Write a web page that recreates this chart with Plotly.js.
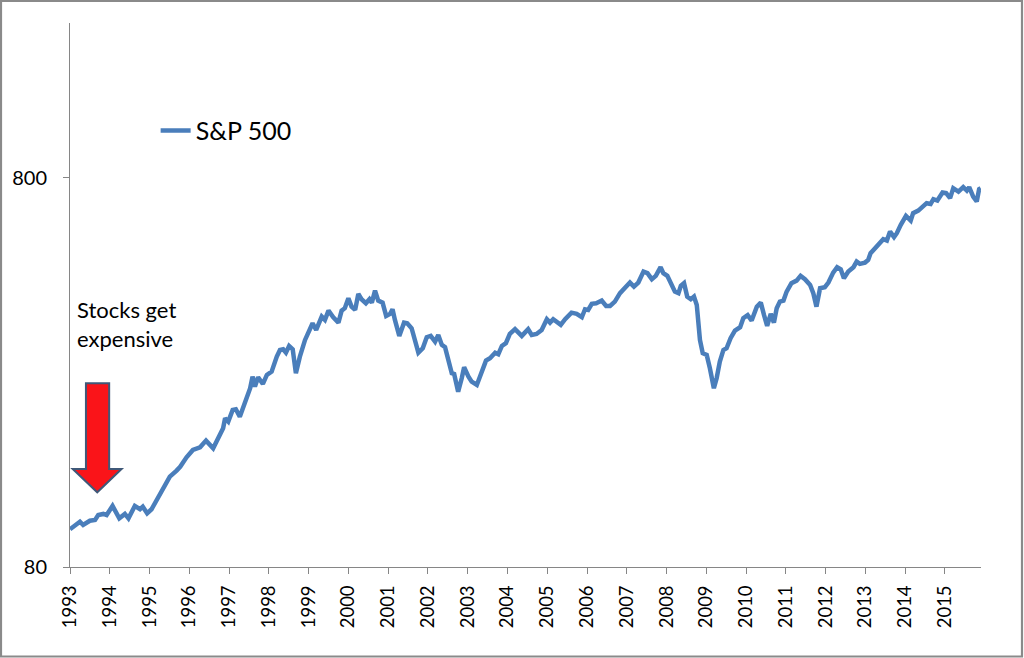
<!DOCTYPE html>
<html>
<head>
<meta charset="utf-8">
<script src="https://cdn.plot.ly/plotly-3.0.1.min.js"></script>
<style>
html,body{margin:0;padding:0;background:#fff;}
#chart{width:1024px;height:658px;}
</style>
</head>
<body>
<div id="chart"></div>
<script>
// ---- data ----
const seriesName = 'S&P 500';
const years = [
1993.00,1993.25,1993.33,1993.50,1993.63,1993.71,1993.84,1993.92,1994.07,1994.24,
1994.38,1994.47,1994.63,1994.76,1994.83,1994.94,1995.05,1995.26,1995.51,1995.68,
1995.77,1995.93,1996.09,1996.27,1996.42,1996.60,1996.73,1996.85,1996.90,1996.98,
1997.09,1997.17,1997.27,1997.44,1997.53,1997.59,1997.65,1997.73,1997.85,1997.95,
1998.07,1998.20,1998.28,1998.36,1998.43,1998.51,1998.60,1998.68,1998.78,1998.91,
1999.03,1999.10,1999.19,1999.33,1999.41,1999.50,1999.62,1999.75,1999.83,1999.91,
2000.00,2000.08,2000.17,2000.25,2000.33,2000.44,2000.53,2000.59,2000.67,2000.75,
2000.86,2000.95,2001.05,2001.11,2001.17,2001.28,2001.40,2001.48,2001.59,2001.67,
2001.76,2001.87,2001.97,2002.07,2002.18,2002.26,2002.35,2002.43,2002.51,2002.60,
2002.66,2002.76,2002.85,2002.91,2003.02,2003.10,2003.23,2003.35,2003.46,2003.56,
2003.69,2003.77,2003.86,2003.96,2004.06,2004.19,2004.36,2004.52,2004.61,2004.73,
2004.86,2004.99,2005.07,2005.15,2005.24,2005.34,2005.45,2005.53,2005.61,2005.74,
2005.87,2005.95,2006.03,2006.12,2006.23,2006.37,2006.48,2006.58,2006.70,2006.83,
2006.96,2007.08,2007.18,2007.29,2007.42,2007.52,2007.63,2007.73,2007.85,2007.92,
2008.02,2008.13,2008.21,2008.30,2008.36,2008.44,2008.52,2008.61,2008.69,2008.76,
2008.84,2008.91,2009.01,2009.09,2009.19,2009.26,2009.34,2009.43,2009.51,2009.61,
2009.72,2009.85,2009.93,2010.04,2010.14,2010.27,2010.37,2010.45,2010.53,2010.62,
2010.70,2010.77,2010.85,2010.94,2011.02,2011.14,2011.27,2011.37,2011.48,2011.61,
2011.69,2011.77,2011.86,2011.98,2012.07,2012.19,2012.29,2012.38,2012.46,2012.57,
2012.70,2012.78,2012.86,2012.99,2013.07,2013.13,2013.24,2013.35,2013.45,2013.54,
2013.62,2013.72,2013.79,2013.89,2014.02,2014.14,2014.20,2014.33,2014.44,2014.54,
2014.64,2014.71,2014.81,2014.94,2015.03,2015.13,2015.21,2015.34,2015.46,2015.55,
2015.61,2015.71,2015.80,2015.86,2015.90
];
const values = [
100.0,104.6,102.6,105.2,105.7,108.8,109.5,108.8,114.8,106.7,
109.5,106.7,114.8,112.6,114.3,109.9,112.6,122.5,136.5,141.5,
144.8,153.1,159.9,162.5,169.0,161.5,173.0,181.8,192.9,189.1,
202.6,203.4,194.7,219.2,230.4,246.8,232.6,245.9,236.3,249.3,
254.2,277.8,289.0,290.2,284.4,295.9,290.2,251.8,277.8,306.6,
328.6,338.5,325.3,352.0,345.2,364.7,350.7,339.7,364.7,369.9,
392.5,373.4,366.2,402.6,390.2,381.0,390.2,382.4,410.5,387.0,
382.4,353.5,357.7,367.7,345.2,314.0,339.7,338.5,328.6,303.6,
284.4,291.9,311.6,314.0,303.6,315.8,297.7,293.7,272.4,251.8,
250.7,225.8,244.4,260.9,246.8,239.6,234.9,251.8,271.3,275.2,
284.4,281.8,295.9,300.7,317.7,326.7,314.0,326.7,315.8,317.7,
325.3,346.6,339.7,346.6,341.7,335.1,346.6,352.0,360.4,357.7,
350.7,367.7,366.2,379.5,381.0,387.0,375.0,375.0,384.7,404.3,
417.9,430.5,420.4,430.5,459.4,455.1,439.2,447.9,471.5,455.1,
447.9,420.4,408.1,404.3,422.1,428.9,396.2,390.2,396.2,377.2,
306.6,283.4,280.6,259.3,230.4,244.4,269.7,289.0,291.9,309.7,
324.0,330.6,348.7,355.0,343.8,373.4,382.4,355.5,333.1,357.7,
339.7,369.9,384.7,387.0,408.1,428.9,435.6,447.9,439.2,424.6,
404.3,373.4,416.4,418.9,430.5,456.7,471.5,466.0,441.8,459.4,
471.5,487.4,480.8,484.6,492.3,512.3,527.7,545.4,556.5,551.9,
582.1,563.2,576.7,605.7,638.8,621.3,649.1,659.1,675.0,688.7,
685.8,705.2,699.3,733.3,730.7,709.3,752.6,737.6,757.1,742.0,
757.1,716.1,695.3,748.2,752.6
];
const tickYears = [1993,1994,1995,1996,1997,1998,1999,2000,2001,2002,2003,2004,
                   2005,2006,2007,2008,2009,2010,2011,2012,2013,2014,2015];
const tickLabels = tickYears.map(String);
const yTickVals = [80, 800];
const yTickLabels = ['80', '800'];
const yMin = 80, yMax = 2000;
const xMin = 1993, xMax = 2015.907;
const noteText = 'Stocks get<br>expensive';

// ---- chart ----
const FONT = 'Lato, "Open Sans", sans-serif';
const axisColor = '#868686';

const trace = {
  x: years,
  y: values,
  type: 'scatter',
  mode: 'lines',
  name: seriesName,
  line: {color: '#4A7EBB', width: 4.5},
  hoverinfo: 'x+y'
};

const layout = {
  width: 1024,
  height: 658,
  margin: {l: 70, r: 43, t: 23, b: 91, pad: 0},
  paper_bgcolor: '#ffffff',
  plot_bgcolor: '#ffffff',
  font: {family: FONT, color: '#000000', size: 18},
  showlegend: true,
  legend: {
    x: 0.094, y: 0.802, xanchor: 'left', yanchor: 'middle',
    bgcolor: 'rgba(0,0,0,0)', borderwidth: 0,
    font: {family: FONT, size: 25, color: '#000'}
  },
  xaxis: {
    type: 'linear',
    range: [xMin, xMax],
    tickmode: 'array',
    tickvals: tickYears,
    ticktext: tickLabels,
    tickangle: -90,
    ticks: 'outside',
    ticklen: 6,
    tickwidth: 1,
    tickcolor: axisColor,
    showline: true,
    linecolor: axisColor,
    linewidth: 1,
    showgrid: false,
    zeroline: false,
    tickfont: {family: FONT, size: 18.5, color: '#000'},
    ticklabelstandoff: 4
  },
  yaxis: {
    type: 'log',
    range: [Math.log10(yMin), Math.log10(yMax)],
    tickmode: 'array',
    tickvals: yTickVals,
    ticktext: yTickLabels,
    ticks: 'outside',
    ticklen: 6,
    tickwidth: 1,
    tickcolor: axisColor,
    showline: true,
    linecolor: axisColor,
    linewidth: 1,
    showgrid: false,
    zeroline: false,
    tickfont: {family: FONT, size: 20, color: '#000'},
    ticklabelstandoff: 12
  },
  annotations: [{
    xref: 'paper', yref: 'paper',
    x: 0.006, y: 0.446,
    xanchor: 'left', yanchor: 'middle',
    align: 'left',
    showarrow: false,
    text: noteText,
    font: {family: FONT, size: 22, color: '#000'}
  }],
  shapes: [
    // red down arrow (decoration)
    {
      type: 'path', xref: 'paper', yref: 'paper',
      path: 'M 0.0175,0.3377 L 0.0430,0.3377 L 0.0430,0.1801 L 0.0566,0.1801 L 0.0299,0.1373 L 0.0030,0.1801 L 0.0175,0.1801 Z',
      fillcolor: '#FA1419',
      line: {color: '#3F5878', width: 2}
    },
    // outer chart border
    {
      type: 'rect', xref: 'paper', yref: 'paper',
      x0: (1 - 70) / 911, x1: (1022 - 70) / 911,
      y0: (567 - 656.5) / 544, y1: (567 - 0.8) / 544,
      line: {color: '#8A8A8A', width: 2.2},
      fillcolor: 'rgba(0,0,0,0)'
    }
  ]
};

Plotly.newPlot('chart', [trace], layout, {displayModeBar: false, staticPlot: false});
</script>
</body>
</html>
